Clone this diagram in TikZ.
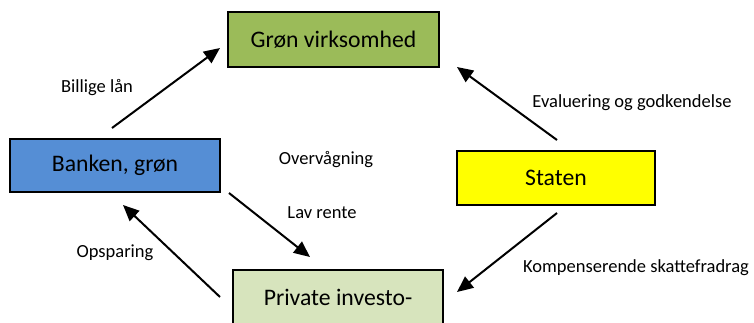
\documentclass[tikz,border=0pt]{standalone}
\usepackage{fontspec}
\setmainfont{Carlito}
\usetikzlibrary{arrows.meta}
\definecolor{cgreen}{HTML}{9BBB59}
\definecolor{cblue}{HTML}{558ED5}
\definecolor{cyellow}{HTML}{FFFF00}
\definecolor{clight}{HTML}{D7E4BD}
\tikzset{
  box/.style={draw=black, line width=2bp, rectangle, inner sep=0pt, anchor=center,
    font=\fontsize{23.7bp}{28bp}\selectfont},
  lbl/.style={inner sep=0pt, anchor=center, font=\fontsize{18.5bp}{22bp}\selectfont},
  arr/.style={line width=2bp, -{Triangle[length=16bp,width=14bp]}}
}
\begin{document}
\begin{tikzpicture}[x=1bp,y=-1bp]
\useasboundingbox (0,0) rectangle (754,322);
\clip (0,0) rectangle (754,322);
\node[box, fill=cgreen, minimum width=211bp, minimum height=55bp] (gron) at (333.5,39.5) {Grøn virksomhed};
\node[box, fill=cblue, minimum width=210bp, minimum height=53bp] (bank) at (115,165.5) {Banken, grøn};
\node[box, fill=cyellow, minimum width=198bp, minimum height=54bp] (stat) at (556,178) {Staten};
\node[box, fill=clight, minimum width=210bp, minimum height=54bp] (priv) at (338,297) {Private investo-};

\coordinate (a1s) at (112,128); \coordinate (a1e) at (220,48);
\coordinate (a2s) at (557,140); \coordinate (a2e) at (457,67);
\coordinate (a3s) at (557,213); \coordinate (a3e) at (457,292);
\coordinate (a4s) at (229,193); \coordinate (a4e) at (310,257);
\coordinate (a5s) at (220,297); \coordinate (a5e) at (123,205);
\draw[arr] (a1s) -- (a1e);
\draw[arr] (a2s) -- (a2e);
\draw[arr] (a3s) -- (a3e);
\draw[arr] (a4s) -- (a4e);
\draw[arr] (a5s) -- (a5e);

\node[lbl] (l1) at (97,88) {Billige lån};
\node[lbl] (l2) at (632,103) {Evaluering og godkendelse};
\node[lbl] (l3) at (326,160) {Overvågning};
\node[lbl] (l4) at (322,213) {Lav rente};
\node[lbl] (l5) at (115,253) {Opsparing};
\node[lbl] (l6) at (636,268) {Kompenserende skattefradrag};
\end{tikzpicture}
\end{document}
